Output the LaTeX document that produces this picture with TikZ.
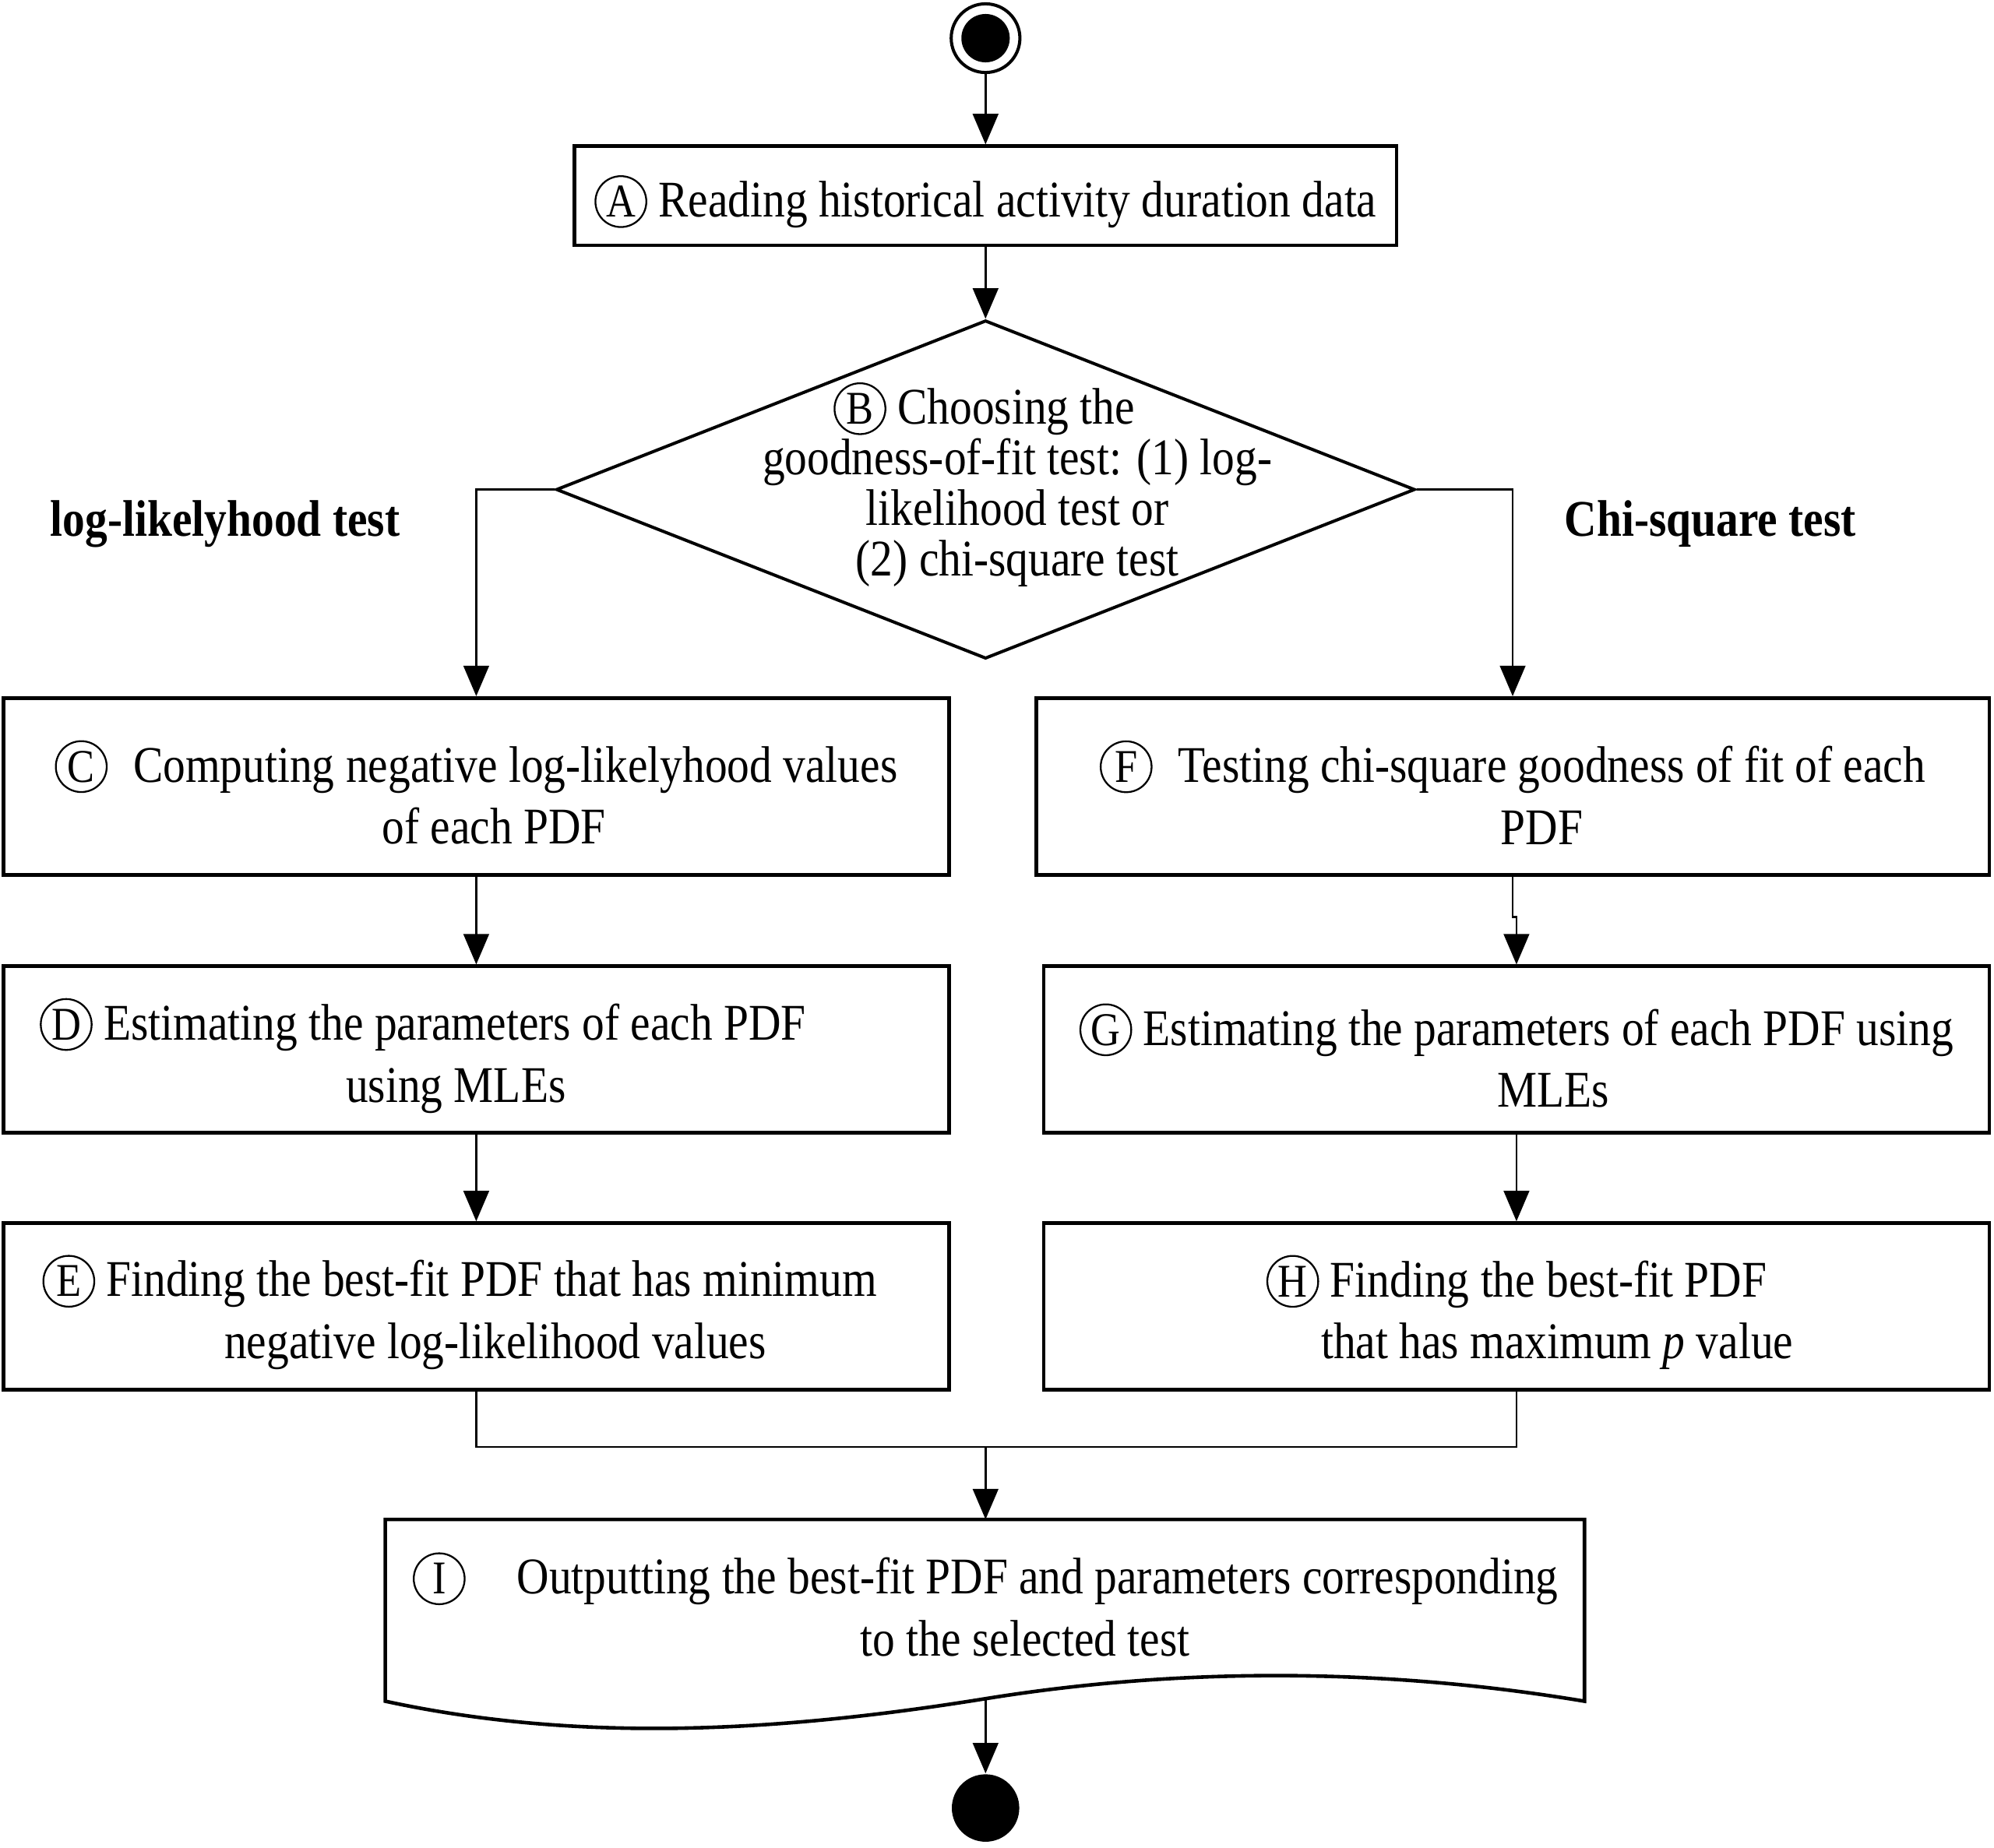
\documentclass[tikz,border=0pt]{standalone}
\usepackage{fontspec}
\setmainfont{Liberation Serif}[FakeStretch=0.87]
\usetikzlibrary{arrows.meta,shapes.geometric}

\newcommand{\circled}[1]{\tikz[baseline=(ch.base)]\node[circle,draw,line width=0.4pt,inner sep=0pt,minimum size=0.4cm,align=center](ch){\fontsize{10.5}{10.5}\selectfont #1};}
\newcommand{\stepnum}[1]{\rule{0pt}{12pt}\circled{#1}}

\tikzset{
  stepbox/.style={draw,line width=0.8pt,align=center,inner sep=0pt},
  flow/.style={->,line width=0.5pt},
  branch/.style={font=\fontsize{11.5}{14}\selectfont\bfseries}
}

\begin{document}
\begin{tikzpicture}[x=0.01cm,y=-0.01cm,>={Triangle[length=0.24cm,width=0.2cm]},
  font=\fontsize{11.5}{13.9}\selectfont]
\useasboundingbox (0,0) rectangle (1568,1453);

% start / end
\node[circle,draw,line width=0.7pt,minimum size=0.54cm,inner sep=0pt,
  path picture={\fill (path picture bounding box.center) circle (0.19cm);}] (start) at (775,30) {};
\node[circle,fill=black,minimum size=0.53cm,inner sep=0pt] (stop) at (775,1422) {};

% steps
\node[stepbox,minimum width=6.46cm,minimum height=0.78cm] (A) at (775,154)
  {\stepnum{A} Reading historical activity duration data};
\node[diamond,draw,line width=0.7pt,minimum width=6.75cm,minimum height=2.66cm,inner sep=0pt] (B) at (775,385) {};
\node[align=center,font=\fontsize{11.5}{11.3}\selectfont] (Btext) at (800,381)
  {\circled{B} Choosing the\hspace*{0.52cm}\\goodness-of-fit test: (1) log-\\likelihood test or\\(2) chi-square test};

\node[branch] (loglab) at (177,412) {log-likelyhood test};
\node[branch] (chilab) at (1345,412) {Chi-square test};

\node[stepbox,minimum width=7.43cm,minimum height=1.39cm] (C) at (374.5,618.5)
  {\stepnum{C}\enspace Computing negative log-likelyhood values\\\hspace*{0.28cm}of each PDF};
\node[stepbox,minimum width=7.43cm,minimum height=1.31cm] (D) at (374.5,825.5)
  {\stepnum{D} Estimating the parameters of each PDF\hspace*{0.84cm}\\using MLEs\hspace*{0.32cm}};
\node[stepbox,minimum width=7.43cm,minimum height=1.31cm] (E) at (374.5,1027.5)
  {\stepnum{E} Finding the best-fit PDF that has minimum\hspace*{0.26cm}\\\hspace*{0.3cm}negative log-likelihood values};

\node[stepbox,minimum width=7.49cm,minimum height=1.39cm] (F) at (1189.5,618.5)
  {\stepnum{F}\enspace Testing chi-square goodness of fit of each\\\hspace*{0.46cm}PDF};
\node[stepbox,minimum width=7.43cm,minimum height=1.31cm] (G) at (1192.5,825.5)
  {\stepnum{G} Estimating the parameters of each PDF using\\\hspace*{0.58cm}MLEs};
\node[stepbox,minimum width=7.43cm,minimum height=1.31cm] (H) at (1192.5,1027.5)
  {\stepnum{H} Finding the best-fit PDF\\\hspace*{0.64cm}that has maximum \textit{p} value};

% output document
\draw[line width=0.8pt] (303,1195) -- (1246,1195) -- (1246,1338)
  .. controls (1090,1312) and (930,1311) .. (775,1336)
  .. controls (620,1361) and (460,1372) .. (303,1338) -- cycle;
\coordinate (Itop) at (775,1195);
\coordinate (Iwave) at (775,1336);
\node[align=center] (I) at (775,1262)
  {\circled{I}\quad Outputting the best-fit PDF and parameters corresponding\\\hspace*{0.62cm}to the selected test};

% connectors
\draw[flow] (start) -- (A);
\draw[flow] (A) -- (B);
\draw[flow] (B.west) -| (C.north);
\draw[flow] (B.east) -| (F.north);
\draw[flow] (C) -- (D);
\draw[flow] (D) -- (E);
\draw[flow] (F.south) -- ++(0,32) -| (G.north);
\draw[flow] (G) -- (H);
\coordinate (join) at (775,1138);
\draw[line width=0.5pt] (E.south) |- (join) -| (H.south);
\draw[flow] (join) -- (Itop);
\draw[flow] (Iwave) -- (stop);
\end{tikzpicture}
\end{document}
